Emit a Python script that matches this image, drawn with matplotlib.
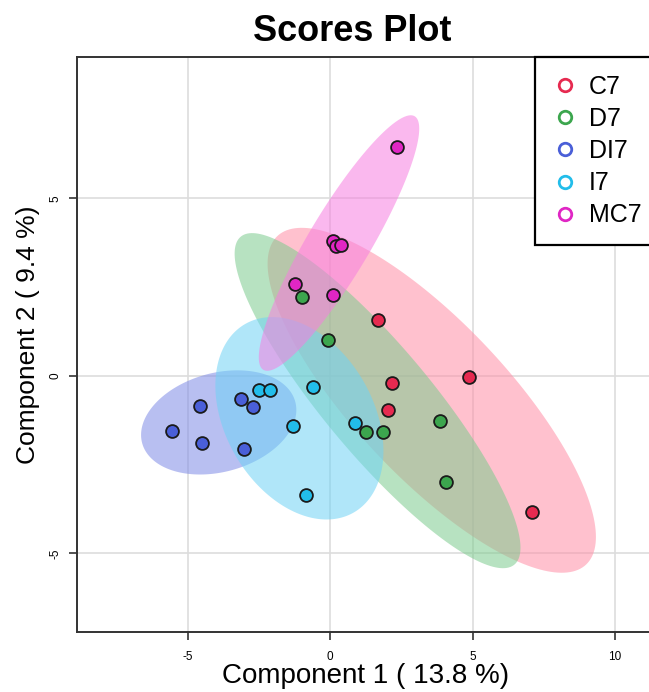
import numpy as np
import matplotlib
matplotlib.use("Agg")
import matplotlib.pyplot as plt
from matplotlib.patches import Polygon
from matplotlib.lines import Line2D

plt.rcParams['font.family'] = ['Liberation Sans', 'DejaVu Sans']
plt.rcParams['axes.unicode_minus'] = False

# skóre jednotlivých vzorků
groups = ["C7", "D7", "DI7", "I7", "MC7"]
colors = ["#E62A50", "#3CA64E", "#4A5FD8", "#22BDEA", "#E026C4"]

c7_x = [1.67, 4.88, 2.16, 2.02, 7.10]
c7_y = [1.58, -0.03, -0.20, -0.96, -3.83]
d7_x = [-1.00, -0.07, 3.87, 1.85, 1.25, 4.08]
d7_y = [2.23, 1.00, -1.27, -1.58, -1.58, -2.99]
di7_x = [-3.14, -2.72, -4.56, -5.54, -4.49, -3.03]
di7_y = [-0.65, -0.87, -0.85, -1.55, -1.89, -2.06]
i7_x = [-2.50, -2.13, -0.59, -1.29, 0.87, -0.84]
i7_y = [-0.39, -0.39, -0.31, -1.41, -1.32, -3.35]
mc7_x = [2.33, 0.10, 0.20, 0.38, -1.25, 0.10]
mc7_y = [6.45, 3.80, 3.65, 3.68, 2.59, 2.28]

xs = [c7_x, d7_x, di7_x, i7_x, mc7_x]
ys = [c7_y, d7_y, di7_y, i7_y, mc7_y]
fills = ["#FF8FA6", "#7CCB8E", "#7F8BE6", "#6FD3F5", "#F77EE0"]

x_ticks = [-5, 0, 5, 10]
y_ticks = [-5, 0, 5]


def conf_ellipse(x, y, level_r=np.sqrt(5.991), n=200):
    """95% elipsa z kovarianční matice."""
    x = np.asarray(x)
    y = np.asarray(y)
    cov = np.cov(x, y)
    L = np.linalg.cholesky(cov)
    t = np.linspace(0, 2 * np.pi, n)
    circ = np.vstack([np.cos(t), np.sin(t)]) * level_r
    pts = L @ circ
    return np.column_stack([pts[0] + x.mean(), pts[1] + y.mean()])


fig = plt.figure(figsize=(6.49, 6.92), dpi=100)
ax = fig.add_axes([0.119, 0.087, 0.898, 0.831])

for x, y, col in zip(xs, ys, fills):
    ax.add_patch(Polygon(conf_ellipse(x, y), closed=True, facecolor=col,
                         alpha=0.55, edgecolor="none", zorder=1))

for x, y, col in zip(xs, ys, colors):
    ax.scatter(x, y, s=85, facecolor=col, edgecolor="#1a1a1a", linewidth=1.3, zorder=3)

ax.set_xlim(-8.88, 11.58)
ax.set_ylim(-7.21, 8.99)
ax.set_xticks(x_ticks)
ax.set_yticks(y_ticks)
ax.grid(True, color="#dddddd", linewidth=1.2, zorder=0)
ax.set_axisbelow(True)
ax.tick_params(axis="both", labelsize=8.5, length=6, width=1.2, color="#333333")
ax.tick_params(axis="x", pad=8)
ax.tick_params(axis="y", pad=5)
for lab in ax.get_yticklabels():
    lab.set_rotation(90)
    lab.set_va("center")
for sp in ax.spines.values():
    sp.set_color("#333333")
    sp.set_linewidth(1.4)

ax.set_xlabel("Component 1 ( 13.8 %)", fontsize=20)
ax.xaxis.set_label_coords(0.495, -0.054)
ax.xaxis.label.set_va("top")
ax.set_ylabel("Component 2 ( 9.4 %)", fontsize=19)
ax.yaxis.set_label_coords(-0.064, 0.516)
fig.text(0.542, 0.955, "Scores Plot", fontsize=26, fontweight="bold", ha="center", va="center")

handles = [Line2D([], [], marker="o", linestyle="none", markersize=9,
                  markerfacecolor="none", markeredgecolor=c, markeredgewidth=2)
           for c in colors]
leg = fig.legend(handles, groups, loc="upper left", bbox_to_anchor=(535 / 649, 1 - 57 / 692),
                 borderaxespad=0, fontsize=18, frameon=True, fancybox=False, framealpha=1,
                 labelspacing=0.33, handletextpad=0.46, borderpad=0.7, handlelength=1.0)
leg.get_frame().set_edgecolor("black")
leg.get_frame().set_linewidth(1.6)

fig.savefig("out.png", dpi=100)
